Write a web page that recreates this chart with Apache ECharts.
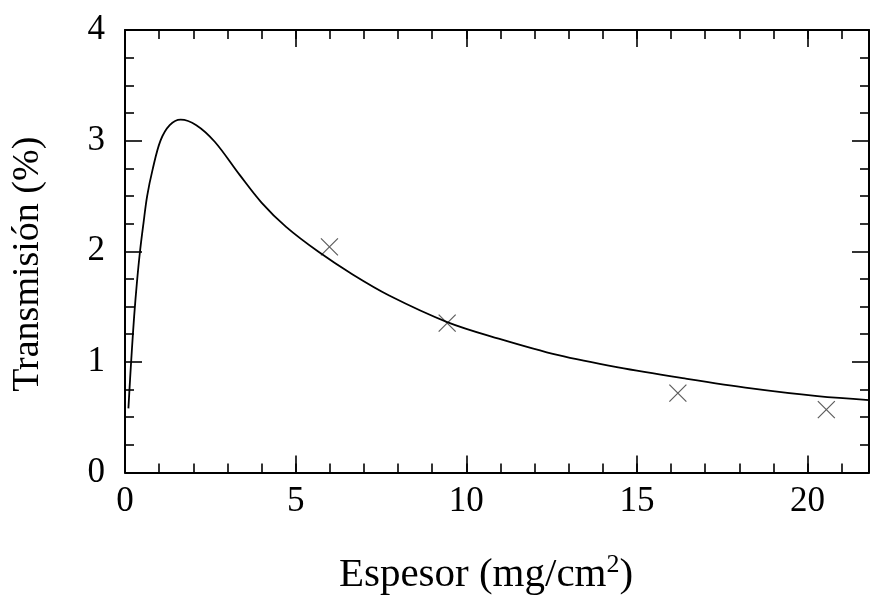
<!DOCTYPE html>
<html>
<head>
<meta charset="utf-8">
<script src="https://cdn.jsdelivr.net/npm/echarts@6/dist/echarts.min.js"></script>
<style>
html,body{margin:0;padding:0;background:#fff;}
#chart{width:872px;height:601px;}
</style>
</head>
<body>
<div id="chart"></div>
<script>
// Fitted curve
const curveX = [0.10, 0.15, 0.20, 0.27, 0.35, 0.44, 0.54, 0.65, 0.81, 1.04, 1.31, 1.63, 2.09, 2.63, 3.36, 4.00, 4.72, 5.69, 6.67, 7.74, 9.44, 10.95, 12.7, 14.45, 16.4, 18.35, 20.29, 21.8];
const curveY = [0.58, 0.85, 1.10, 1.42, 1.72, 2.00, 2.25, 2.50, 2.74, 3.00, 3.14, 3.19, 3.14, 2.99, 2.69, 2.44, 2.22, 1.99, 1.79, 1.60, 1.36, 1.21, 1.06, 0.95, 0.85, 0.76, 0.69, 0.655];
// Measured points
const pointX = [5.99, 9.44, 16.2, 20.55];
const pointY = [2.04, 1.35, 0.717, 0.568];
// Axis ticks
const xMin = 0, xMax = 21.8, xMajor = 5, xMinor = 1;
const yMin = 0, yMax = 4, yMajor = 1, yMinorSplit = 4;

const FONT = 'Liberation Serif';
const FS = 35;
const lineStyle = {color: '#000', width: 2};
const tickStyle = {color: '#000', width: 1.6};

function xAx(pos, major, labels) {
  return {
    type: 'value', position: pos, min: xMin, max: xMax,
    interval: major ? xMajor : xMinor,
    axisLine: {show: major, onZero: false, lineStyle: lineStyle},
    axisTick: {show: true, inside: true, length: major ? 17 : 9, lineStyle: tickStyle},
    axisLabel: {show: labels, margin: 12, fontFamily: FONT, fontSize: FS, color: '#000',
      formatter: function (v) { return (Math.abs(v / xMajor - Math.round(v / xMajor)) < 1e-6) ? String(v) : ''; }},
    splitLine: {show: false},
    name: labels ? '{a|Espesor (mg/cm}{s|2}{a|)}' : '',
    nameLocation: 'middle', nameGap: 80,
    nameTextStyle: {
      padding: [0, 22, 0, 0],
      rich: {
        a: {fontFamily: FONT, fontSize: 41, color: '#000', lineHeight: 46},
        s: {fontFamily: FONT, fontSize: 26, color: '#000', verticalAlign: 'top', lineHeight: 46, padding: [0, 0, 16, 0]}
      }
    }
  };
}
function yAx(pos, labels) {
  return {
    type: 'value', position: pos, min: yMin, max: yMax, interval: yMajor,
    axisLine: {show: true, onZero: false, lineStyle: lineStyle},
    axisTick: {show: true, inside: true, length: 17, lineStyle: tickStyle},
    minorTick: {show: true, splitNumber: yMinorSplit, length: 9, lineStyle: tickStyle},
    axisLabel: {show: labels, margin: 20, fontFamily: FONT, fontSize: FS, color: '#000'},
    splitLine: {show: false},
    name: labels ? 'Transmisión (%)' : '',
    nameLocation: 'middle', nameGap: 78,
    nameTextStyle: {fontFamily: FONT, fontSize: 38, color: '#000', padding: [0, 26, 0, 0]}
  };
}

const chart = echarts.init(document.getElementById('chart'), null, {renderer: 'canvas'});
chart.setOption({
  animation: false,
  backgroundColor: '#fff',
  grid: {left: 125, top: 30, right: 0, bottom: 122, containLabel: false},
  xAxis: [xAx('bottom', true, true), xAx('bottom', false, false), xAx('top', true, false), xAx('top', false, false)],
  yAxis: [yAx('left', true), yAx('right', false)],
  series: [
    {
      type: 'line', xAxisIndex: 0, yAxisIndex: 0,
      data: curveX.map((x, i) => [x, curveY[i]]),
      showSymbol: false, smooth: 0.35,
      lineStyle: {color: '#000', width: 1.8}
    },
    {
      type: 'scatter', xAxisIndex: 0, yAxisIndex: 0,
      data: pointX.map((x, i) => [x, pointY[i]]),
      symbol: 'path://M0,0L10,10M10,0L0,10', symbolSize: 17,
      itemStyle: {color: 'none', borderColor: '#333', borderWidth: 1.2}
    }
  ]
});
</script>
</body>
</html>
